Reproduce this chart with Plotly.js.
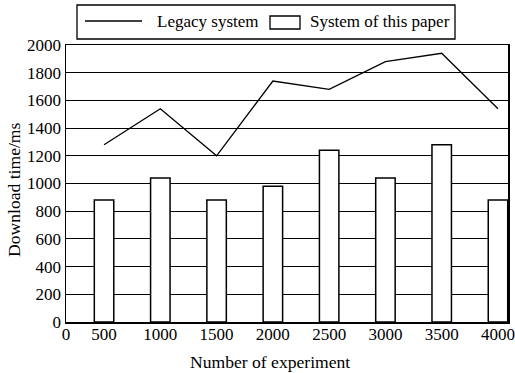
<!DOCTYPE html>
<html>
<head>
<meta charset="utf-8">
<script src="https://cdn.plot.ly/plotly-3.0.1.min.js"></script>
<style>html,body{margin:0;padding:0;background:#fff;}#chart{width:515px;height:373px;}</style>
</head>
<body>
<div id="chart"></div>
<script>
// Data
var experiments = [500, 1000, 1500, 2000, 2500, 3000, 3500, 4000];
var legacyTimes = [1280, 1540, 1200, 1740, 1680, 1880, 1940, 1540];
var paperTimes  = [880, 1040, 880, 980, 1240, 1040, 1280, 880];
var xTickLabels = ["0", "500", "1000", "1500", "2000", "2500", "3000", "3500", "4000"];
var yTickVals   = [0, 200, 400, 600, 800, 1000, 1200, 1400, 1600, 1800, 2000];
var seriesNames = ['Legacy system', 'System of this paper'];
var xTitle = 'Number of experiment';
var yTitle = 'Download time/ms';

var xStart = 162, xEnd = 4089; // axis extent as drawn in the reference (the "0" label sits at the origin)
var xTickVals = [xStart].concat(experiments);

var family = '"Liberation Serif", "Times New Roman", serif';
var font = {family: family, size: 17, color: '#000'};
var titleFont = {family: family, size: 17.6, color: '#000'};

var traces = [
  {
    type: 'scatter', mode: 'lines', name: seriesNames[0],
    x: experiments, y: legacyTimes,
    line: {color: '#000', width: 1.3}
  },
  {
    type: 'bar', name: seriesNames[1],
    x: experiments, y: paperTimes, width: 173,
    marker: {color: '#fff', line: {color: '#000', width: 1.5}}
  }
];

// Legend box drawn in paper coordinates (plot area: 66..508 px wide, 45..322 px tall)
var W = 442, H = 277, L = 66, B = 322;
function px(x) { return (x - L) / W; }
function py(y) { return (B - y) / H; }

var layout = {
  width: 515, height: 373,
  margin: {l: 66, r: 7, t: 45, b: 51},
  paper_bgcolor: '#fff', plot_bgcolor: '#fff',
  font: font,
  showlegend: false,
  xaxis: {
    range: [xStart, xEnd], tickmode: 'array', tickvals: xTickVals, ticktext: xTickLabels,
    showgrid: false, zeroline: false, showline: true, linecolor: '#000', linewidth: 1.5, mirror: true,
    ticks: '', tickfont: font, ticklabelstandoff: -4
  },
  yaxis: {
    range: [0, 2000], tickmode: 'array', tickvals: yTickVals,
    showgrid: true, gridcolor: '#000', gridwidth: 1, zeroline: false,
    showline: true, linecolor: '#000', linewidth: 1.5, mirror: true,
    ticks: '', tickfont: font
  },
  shapes: [
    {type: 'rect', xref: 'paper', yref: 'paper', x0: px(77), x1: px(455), y0: py(39), y1: py(5),
     line: {color: '#000', width: 1.3}, fillcolor: '#fff', layer: 'above'},
    {type: 'line', xref: 'paper', yref: 'paper', x0: px(85), x1: px(142), y0: py(21), y1: py(21),
     line: {color: '#000', width: 1.3}, layer: 'above'},
    {type: 'rect', xref: 'paper', yref: 'paper', x0: px(270), x1: px(300), y0: py(29), y1: py(16),
     line: {color: '#000', width: 1.3}, fillcolor: '#fff', layer: 'above'}
  ],
  annotations: [
    {text: seriesNames[0], xref: 'paper', yref: 'paper', x: px(155), y: py(21),
     xanchor: 'left', yanchor: 'middle', showarrow: false, font: font},
    {text: seriesNames[1], xref: 'paper', yref: 'paper', x: px(308), y: py(21),
     xanchor: 'left', yanchor: 'middle', showarrow: false, font: font},
    {text: xTitle, xref: 'paper', yref: 'paper', x: px(269.5), y: py(361.5),
     xanchor: 'center', yanchor: 'middle', showarrow: false, font: titleFont},
    {text: yTitle, xref: 'paper', yref: 'paper', x: px(14), y: py(190), textangle: -90,
     xanchor: 'center', yanchor: 'middle', showarrow: false, font: titleFont}
  ]
};

Plotly.newPlot('chart', traces, layout, {displayModeBar: false, staticPlot: true});
</script>
</body>
</html>
